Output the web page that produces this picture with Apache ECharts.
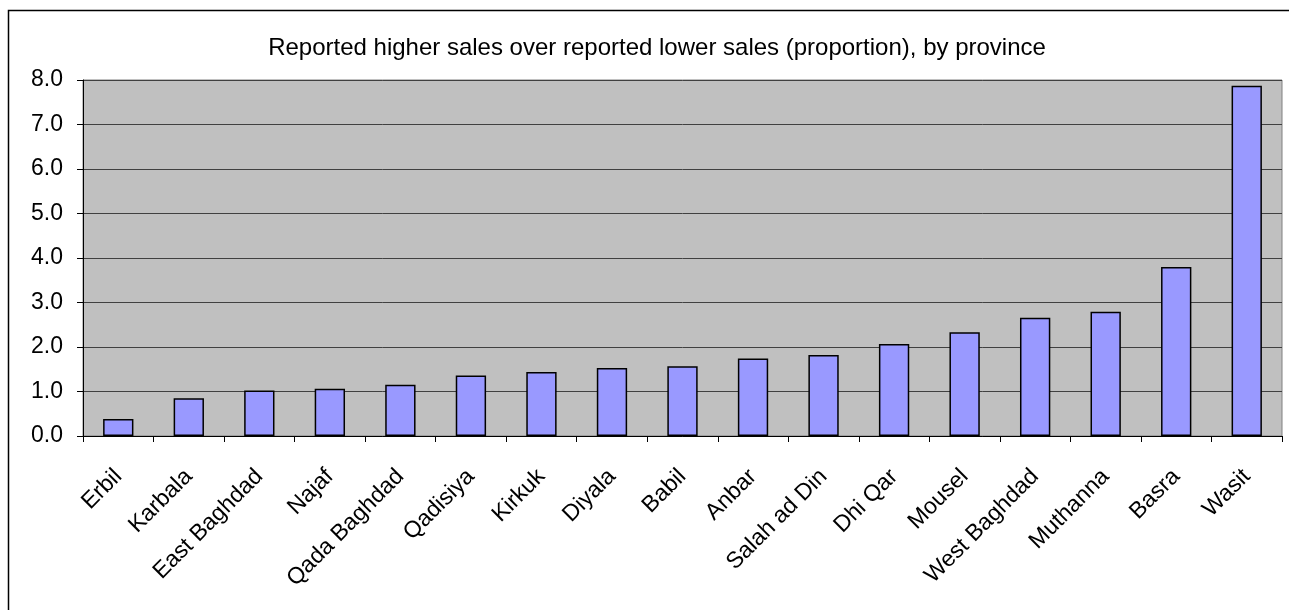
<!DOCTYPE html>
<html>
<head>
<meta charset="utf-8">
<title>Reported higher sales over reported lower sales, by province</title>
<script src="https://cdn.jsdelivr.net/npm/echarts@6/dist/echarts.min.js"></script>
<style>
  html, body { margin: 0; padding: 0; background: #ffffff; }
  #chart { width: 1289px; height: 610px; }
</style>
</head>
<body>
<div id="chart"></div>
<script>
// Provinces, ordered from lowest to highest ratio
const provinces = [
  'Erbil', 'Karbala', 'East Baghdad', 'Najaf', 'Qada Baghdad', 'Qadisiya',
  'Kirkuk', 'Diyala', 'Babil', 'Anbar', 'Salah ad Din', 'Dhi Qar',
  'Mousel', 'West Baghdad', 'Muthanna', 'Basra', 'Wasit'
];

// Reported higher sales / reported lower sales
const salesRatio = [
  0.38, 0.85, 1.02, 1.06, 1.15, 1.36,
  1.44, 1.53, 1.57, 1.74, 1.82, 2.07,
  2.33, 2.66, 2.79, 3.80, 7.87
];

const chartTitle = 'Reported higher sales over reported lower sales (proportion), by province';

const yMin = 0;
const yMax = 8;
const yStep = 1;

const FONT = '"Liberation Sans", Arial, sans-serif';

const chart = echarts.init(document.getElementById('chart'), null, { renderer: 'canvas' });

chart.setOption({
  animation: false,
  backgroundColor: '#ffffff',
  title: {
    text: chartTitle,
    left: 652,
    top: 31,
    textAlign: 'center',
    textStyle: {
      fontFamily: FONT,
      fontSize: 24,
      fontWeight: 'normal',
      color: '#000000'
    }
  },
  graphic: [
    {
      // chart frame, open towards the right and bottom edges
      type: 'rect',
      shape: { x: 8.5, y: 10.5, width: 1400, height: 700 },
      style: { fill: null, stroke: '#000000', lineWidth: 1.5 },
      silent: true,
      z: 0
    }
  ],
  grid: {
    left: 83,
    right: 7,
    top: 80,
    bottom: 174,
    show: true,
    backgroundColor: '#c0c0c0',
    borderColor: '#808080',
    borderWidth: 1
  },
  xAxis: {
    type: 'category',
    data: provinces,
    axisLine: { show: true, lineStyle: { color: '#000000', width: 1 } },
    axisTick: { show: true, length: 6, inside: false, lineStyle: { color: '#000000' } },
    axisLabel: {
      interval: 0,
      rotate: 45,
      margin: 37,
      fontFamily: FONT,
      fontSize: 23,
      color: '#000000'
    },
    splitLine: { show: false }
  },
  yAxis: {
    type: 'value',
    min: yMin,
    max: yMax,
    interval: yStep,
    axisLine: { show: true, lineStyle: { color: '#000000', width: 1 } },
    axisTick: { show: true, length: 6, inside: false, lineStyle: { color: '#000000' } },
    axisLabel: {
      margin: 20,
      fontFamily: FONT,
      fontSize: 23,
      color: '#000000',
      formatter: v => v.toFixed(1)
    },
    splitLine: { show: true, lineStyle: { color: '#404040', width: 1 } }
  },
  series: [
    {
      type: 'bar',
      data: salesRatio,
      barCategoryGap: '57%',
      itemStyle: {
        color: '#9999ff',
        borderColor: '#000000',
        borderWidth: 1.5
      }
    }
  ]
});
</script>
</body>
</html>
